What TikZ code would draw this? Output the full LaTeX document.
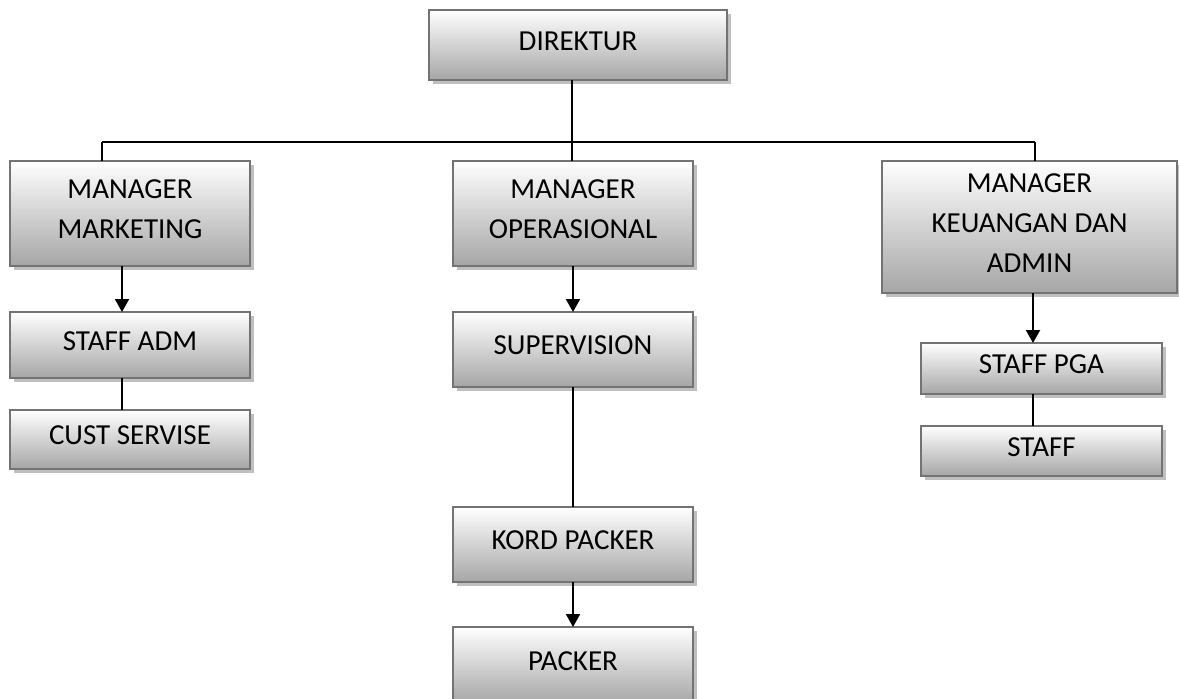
\documentclass[tikz,border=0pt]{standalone}
\usepackage{fontspec}
\setmainfont{Carlito}
\usepackage{tikz}
\usetikzlibrary{arrows.meta, positioning, shadows}

\begin{document}
\begin{tikzpicture}[
            x = 1pt, y = -1pt, % pixel grid, y downwards
            > = {Triangle[width=14pt, length=13pt]}, % arrow head style
            line width = 1.3pt,
            node distance = 46pt % distance between boxes
        ]
        \tikzstyle{orgbox}=[
            draw = black!55,
            line width = 1.6pt,
            top color = white,
            bottom color = black!35,
            drop shadow = {shadow xshift=4pt, shadow yshift=-4pt, fill=black!25, opacity=1},
            align = center,
            inner sep = 0pt,
            outer sep = 0pt,
            minimum width = 240pt,
            font = \fontsize{29}{40}\selectfont,
            execute at end node = {\rule[-8pt]{0pt}{0pt}} % text sits a bit high
        ]
        \tikzstyle{down}=[->, line width = 2pt]
        \useasboundingbox (0,0) rectangle (1179,699);

        \node[orgbox, minimum width=298pt, minimum height=70pt] (dir) at (578,45) {DIREKTUR};
        \node[orgbox, minimum height=105pt] (mktg) at (130,213.5) {MANAGER\\MARKETING};
        \node[orgbox, minimum height=105pt] (ops) at (573,213.5) {MANAGER\\OPERASIONAL};
        \node[orgbox, minimum width=295pt, minimum height=132pt] (keu) at (1029.5,227) {MANAGER\\KEUANGAN DAN\\ADMIN};

        \node[orgbox, minimum height=66pt] (adm)[below=of mktg] {STAFF ADM};
        \node[orgbox, minimum height=59pt] (cust)[below=32pt of adm] {CUST SERVISE};

        \node[orgbox, minimum height=75pt] (sup)[below=of ops] {SUPERVISION};
        \node[orgbox, minimum height=75pt] (kord)[below=120pt of sup] {KORD PACKER};
        \node[orgbox, minimum height=76pt] (pack)[below=45pt of kord] {PACKER};

        \node[orgbox, minimum width=241pt, minimum height=51pt] (pga)[below=50pt of keu, xshift=12pt] {STAFF PGA};
        \node[orgbox, minimum width=241pt, minimum height=50pt] (staff)[below=32pt of pga] {STAFF};

        % bus under the director
        \coordinate (bus) at (572,142);
        \coordinate (busL) at (102,142);
        \coordinate (busR) at (1035,142);
        \draw ([xshift=-6pt]dir.south) -- (bus);
        \draw (busL) -- (busR);
        \draw (busL) -- (busL |- mktg.north);
        \draw (bus) -- (bus |- ops.north);
        \draw (busR) -- (busR |- keu.north);

        % marketing
        \draw[down] ([xshift=-8pt]mktg.south) -- ([xshift=-8pt]adm.north);
        \draw ([xshift=-8pt]adm.south) -- ([xshift=-8pt]cust.north);

        % operasional
        \draw[down] (ops.south) -- (sup.north);
        \draw (sup.south) -- (kord.north);
        \draw[down] (kord.south) -- (pack.north);

        % keuangan
        \draw[down] ([xshift=3.5pt]keu.south) -- ([xshift=-8.5pt]pga.north);
        \draw ([xshift=-8.5pt]pga.south) -- ([xshift=-8.5pt]staff.north);
    \end{tikzpicture}
\end{document}
